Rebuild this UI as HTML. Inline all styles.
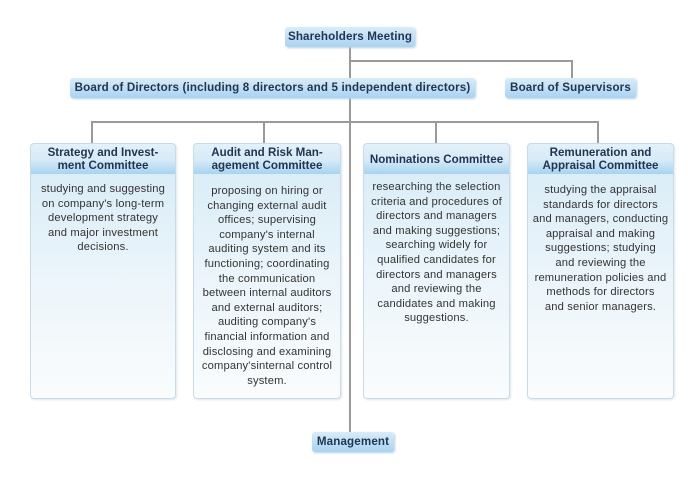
<!DOCTYPE html>
<html><head><meta charset="utf-8"><style>
body{margin:0;width:700px;height:479px;background:#fff;position:relative;font-family:"Liberation Sans",sans-serif;overflow:hidden}
.n{position:absolute;height:20px;line-height:20px;text-align:center;font-weight:bold;font-size:11.6px;color:#1f3550;border-radius:3px;background:linear-gradient(#d9ecf9,#a9d3f1);box-shadow:1px 1px 2px #b8cfe0;white-space:nowrap;letter-spacing:.15px}
.l{position:absolute;background:#9a9a9a}
.c{position:absolute;top:143px;height:254px;border:1px solid #c9dbe6;border-radius:4px;background:linear-gradient(#d6ebf6,#eef6fb 60%,#fafcfd);box-shadow:1px 1px 2px #dde6ec}
.h{height:30px;border-radius:4px 4px 0 0;background:linear-gradient(#e3f1fa,#d6eaf7 55%,#a6d3f1);display:flex;align-items:center;justify-content:center;text-align:center;font-weight:bold;font-size:11.6px;line-height:13px;color:#1f3550;white-space:nowrap}
.t{text-align:center;font-size:11.2px;line-height:14.6px;color:#333;padding-top:6px;white-space:nowrap;letter-spacing:.15px}
</style></head><body>
<div class="l" style="left:349px;top:47px;width:2px;height:385px"></div>
<div class="l" style="left:350px;top:60px;width:223px;height:2px"></div>
<div class="l" style="left:571px;top:60px;width:2px;height:18px"></div>
<div class="l" style="left:91px;top:121px;width:508px;height:2px"></div>
<div class="l" style="left:91px;top:121px;width:2px;height:22px"></div>
<div class="l" style="left:263px;top:121px;width:2px;height:22px"></div>
<div class="l" style="left:435px;top:121px;width:2px;height:22px"></div>
<div class="l" style="left:597px;top:121px;width:2px;height:22px"></div>
<div class="n" style="left:285px;top:27px;width:130px">Shareholders Meeting</div>
<div class="n" style="left:70px;top:78px;width:405px">Board of Directors (including 8 directors and 5 independent directors)</div>
<div class="n" style="left:505px;top:78px;width:131px">Board of Supervisors</div>
<div class="n" style="left:312px;top:432px;width:82px">Management</div>
<div class="c" style="left:30px;width:144px"><div class="h">Strategy and Invest-<br>ment Committee</div><div class="t" style="padding-top:8px">studying and suggesting<br>on company's long-term<br>development strategy<br>and major investment<br>decisions.</div></div>
<div class="c" style="left:193px;width:146px"><div class="h">Audit and Risk Man-<br>agement Committee</div><div class="t" style="padding-top:10px">proposing on hiring or<br>changing external audit<br>offices; supervising<br>company's internal<br>auditing system and its<br>functioning; coordinating<br>the communication<br>between internal auditors<br>and external auditors;<br>auditing company's<br>financial information and<br>disclosing and examining<br>company'sinternal control<br>system.</div></div>
<div class="c" style="left:363px;width:145px"><div class="h">Nominations Committee</div><div class="t">researching the selection<br>criteria and procedures of<br>directors and managers<br>and making suggestions;<br>searching widely for<br>qualified candidates for<br>directors and managers<br>and reviewing the<br>candidates and making<br>suggestions.</div></div>
<div class="c" style="left:527px;width:145px"><div class="h">Remuneration and<br>Appraisal Committee</div><div class="t" style="padding-top:9px">studying the appraisal<br>standards for directors<br>and managers, conducting<br>appraisal and making<br>suggestions; studying<br>and reviewing the<br>remuneration policies and<br>methods for directors<br>and senior managers.</div></div>
</body></html>
